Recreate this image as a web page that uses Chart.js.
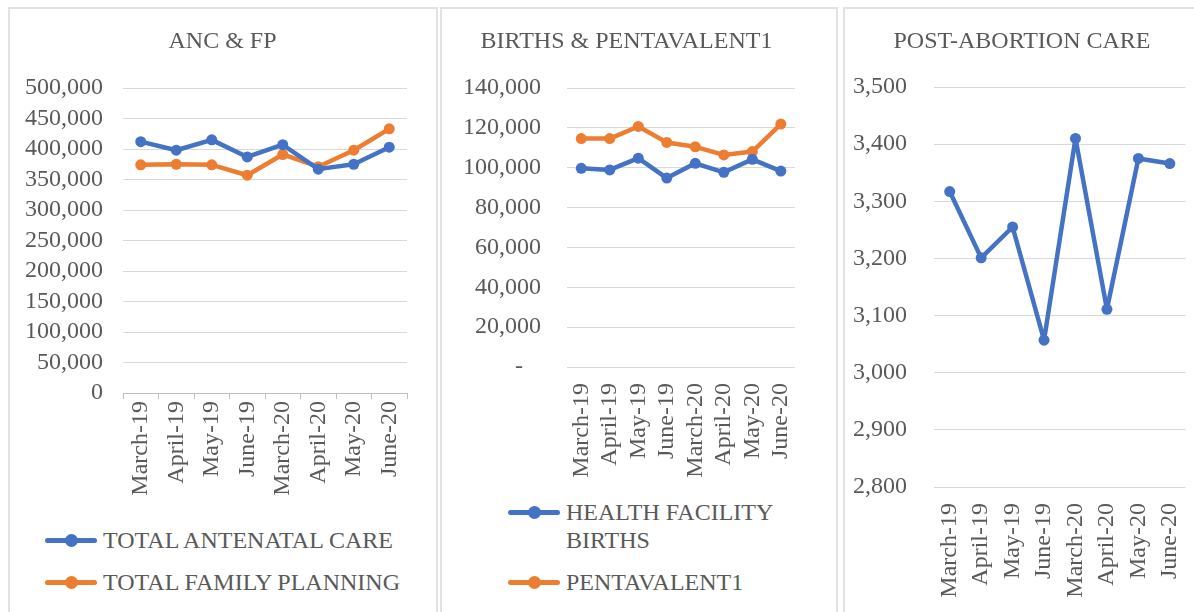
<!DOCTYPE html>
<html>
<head>
<title>ANC, births and post-abortion care</title>
<script src="https://cdn.jsdelivr.net/npm/chart.js@4"></script>
<style>
  body { margin: 0; background: #fff; width: 1194px; height: 612px; overflow: hidden; position: relative; }
  .panel { position: absolute; top: 7px; height: 700px; border: 2px solid #e2e2e2; box-sizing: border-box; }
  canvas { position: absolute; }
  .leg { position: absolute; font: 24px 'Liberation Serif', 'Times New Roman', serif; color: #595959; line-height: 28px; white-space: nowrap; }
  .sym { position: absolute; width: 52px; height: 5px; border-radius: 3px; }
  .sym::after { content: ''; position: absolute; left: 20px; top: -4px; width: 13px; height: 13px; border-radius: 50%; background: inherit; }
</style>
</head>
<body>

<div class="panel" style="left:8px; width:430px;"></div>
<div class="panel" style="left:440px; width:398px;"></div>
<div class="panel" style="left:843px; width:400px;"></div>

<canvas id="ancChart" width="425" height="506" style="left:10px; top:7px;"></canvas>
<canvas id="birthChart" width="383" height="470" style="left:435px; top:7px;"></canvas>
<canvas id="pacChart" width="370" height="610" style="left:837px; top:7px;"></canvas>

<!-- legends -->
<div class="sym" style="left:45px; top:538px; background:#4472C4;"></div>
<div class="leg" style="left:103px; top:526px;">TOTAL ANTENATAL CARE</div>
<div class="sym" style="left:45px; top:580px; background:#ED7D31;"></div>
<div class="leg" style="left:103px; top:568px;">TOTAL FAMILY PLANNING</div>

<div class="sym" style="left:508px; top:510px; background:#4472C4;"></div>
<div class="leg" style="left:566px; top:498px;">HEALTH FACILITY<br>BIRTHS</div>
<div class="sym" style="left:508px; top:580px; background:#ED7D31;"></div>
<div class="leg" style="left:566px; top:568px;">PENTAVALENT1</div>

<script>
// data
const months = ['March-19', 'April-19', 'May-19', 'June-19', 'March-20', 'April-20', 'May-20', 'June-20'];

const ancTotal = [412000, 398000, 415000, 387000, 407000, 367000, 375000, 403000];
const fpTotal = [374000, 375000, 374000, 357000, 391000, 371000, 398000, 433000];

const facilityBirths = [99700, 98900, 104800, 94800, 102200, 97700, 104200, 98300];
const penta1 = [114600, 114600, 120700, 112700, 110500, 106400, 108100, 121900];

const postAbortion = [3317, 3201, 3255, 3057, 3410, 3111, 3375, 3366];

const BLUE = '#4472C4';
const ORANGE = '#ED7D31';
const TEXT = '#595959';
const FONT = "'Liberation Serif', 'Times New Roman', serif";

Chart.defaults.font.family = FONT;
Chart.defaults.font.size = 24;
Chart.defaults.color = TEXT;

function series(label, data, color) {
  return {
    label: label,
    data: data,
    borderColor: color,
    backgroundColor: color,
    borderWidth: 4.5,
    borderJoinStyle: 'round',
    borderCapStyle: 'round',
    pointRadius: 5.5,
    pointHoverRadius: 5.5,
    pointBorderWidth: 0,
    tension: 0
  };
}

// one panel; o holds the sizes for that panel
function drawPanel(id, title, datasets, o) {
  new Chart(document.getElementById(id), {
    type: 'line',
    data: { labels: months, datasets: datasets },
    options: {
      responsive: false,
      animation: false,
      events: [],
      layout: { padding: 0 },
      plugins: {
        legend: { display: false },
        tooltip: { enabled: false },
        title: {
          display: true,
          text: title,
          color: TEXT,
          font: { size: 24, weight: 'normal', family: FONT },
          padding: { top: 20.6, bottom: o.titleGap }
        }
      },
      scales: {
        x: {
          offset: true,
          grid: o.xTicks
            ? { display: true, offset: true, drawOnChartArea: false, drawTicks: true, tickLength: 6, color: '#bfbfbf' }
            : { display: false },
          border: { display: !!o.xTicks, color: '#bfbfbf' },
          ticks: { minRotation: 90, maxRotation: 90, autoSkip: false, padding: o.xTicks ? 2 : 8 },
          afterFit: s => { s.height = o.xHeight; }
        },
        y: {
          min: o.min,
          max: o.max,
          grid: { color: '#d9d9d9', drawTicks: false },
          border: { display: false },
          ticks: {
            stepSize: o.step,
            autoSkip: false,
            padding: o.yPad,
            callback: o.fmt || (v => v.toLocaleString('en-US'))
          },
          afterFit: s => { s.width = o.yWidth; }
        },
        pad: {
          type: 'linear',
          position: 'right',
          display: true,
          grid: { display: false },
          border: { display: false },
          ticks: { display: false },
          afterFit: s => { s.width = o.rightPad; }
        }
      }
    }
  });
}

drawPanel('ancChart', 'ANC & FP',
  [series('TOTAL ANTENATAL CARE', ancTotal, BLUE), series('TOTAL FAMILY PLANNING', fpTotal, ORANGE)],
  { min: 0, max: 500000, step: 50000, yWidth: 113, yPad: 20, rightPad: 28, xHeight: 120, titleGap: 31.6, xTicks: true });

drawPanel('birthChart', 'BIRTHS & PENTAVALENT1',
  [series('HEALTH FACILITY BIRTHS', facilityBirths, BLUE), series('PENTAVALENT1', penta1, ORANGE)],
  { min: 0, max: 140000, step: 20000, yWidth: 132, yPad: 26, rightPad: 6, xHeight: 110, titleGap: 31.6,
    fmt: v => v === 0 ? '-   ' : v.toLocaleString('en-US') });

drawPanel('pacChart', 'POST-ABORTION CARE',
  [series('POST-ABORTION CARE', postAbortion, BLUE)],
  { min: 2800, max: 3500, step: 100, yWidth: 97, yPad: 27, rightPad: 6, xHeight: 130, titleGap: 30.6 });
</script>
</body>
</html>
